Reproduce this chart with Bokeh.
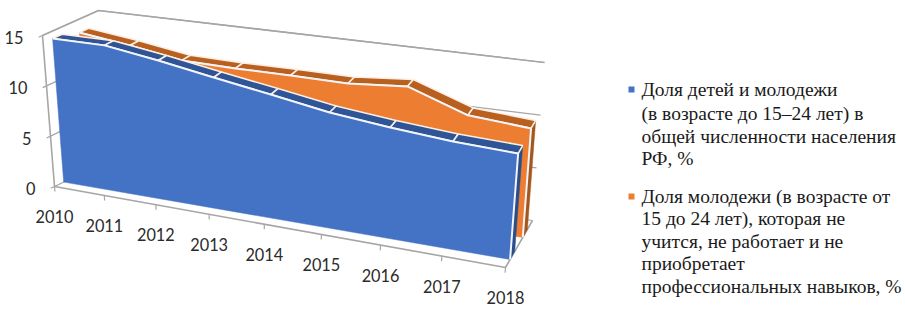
from bokeh.plotting import figure
from bokeh.models import Range1d
from bokeh.core.properties import value
from bokeh.embed import file_html
from bokeh.resources import INLINE

# ---- data ----
years = ["2010", "2011", "2012", "2013", "2014", "2015", "2016", "2017", "2018"]
share_children_youth = [14.28, 14.37, 13.67, 12.83, 12.02, 11.16, 10.63, 10.23, 10.06]
share_neet = [13.7, 13.08, 12.29, 12.22, 12.26, 12.24, 12.73, 10.76, 10.35]
value_ticks = [0, 5, 10, 15]
legend_blue = ["Доля детей и молодежи", "(в возрасте до 15–24 лет) в",
               "общей численности населения", "РФ, %"]
legend_orange = ["Доля молодежи (в возрасте от", "15 до 24 лет), которая не",
                 "учится, не работает и не", "приобретает",
                 "профессиональных навыков, %"]

# ---- oblique 3D projection of (category index, depth, value) ----
W, H = 905, 309
VMAX = 15.0
R = 1.15
FLB, FRB, BLB, BRB = (54, 186), (505, 267), (108, 160), (532, 220)
FLT, FRT, BLT, BRT = (42, 35), (517, 109), (98, 10), (544, 62)
n = len(years)


def lerp(a, b, t):
    return (a[0] + (b[0] - a[0]) * t, a[1] + (b[1] - a[1]) * t)


def proj(i, d, v):
    s = i / (n - 1)
    u = s / (s + R * (1 - s))
    fb, bb = lerp(FLB, FRB, u), lerp(BLB, BRB, u)
    ft, bt = lerp(FLT, FRT, u), lerp(BLT, BRT, u)
    return lerp(lerp(fb, bb, d), lerp(ft, bt, d), v / VMAX)


def poly(pts):
    return [q[0] for q in pts], [q[1] for q in pts]


p = figure(width=W, height=H, output_backend="svg", toolbar_location=None,
           x_range=Range1d(0, W), y_range=Range1d(H, 0), min_border=0)
p.axis.visible = False
p.grid.visible = False
p.outline_line_color = None
p.background_fill_color = "white"

GREY = "#a6a6a6"


def wall(points, width=1.6):
    xs, ys = poly(points)
    p.line(xs, ys, line_color=GREY, line_width=width)


# walls, floor and gridlines
wall([proj(0, 0, 0), proj(0, 0, VMAX), proj(0, 1, VMAX), proj(n - 1, 1, VMAX)])
wall([proj(0, 0, 0), proj(n - 1, 0, 0), proj(n - 1, 1, 0)])
for v in value_ticks:
    wall([proj(0, -0.07, v), proj(0, 0, v), proj(0, 1, v), proj(n - 1, 1, v)], 1.2)
for i in range(n):
    wall([proj(i, 0, 0), proj(i, 0, -0.5)], 1.2)


def solid(vals, d0, d1, front, top, side):
    # right side
    xs, ys = poly([proj(n - 1, d0, vals[-1]), proj(n - 1, d1, vals[-1]),
                   proj(n - 1, d1, 0), proj(n - 1, d0, 0)])
    p.patch(xs, ys, fill_color=side, line_color=side, line_width=0.5)
    # top bands
    for i in range(n - 1):
        xs, ys = poly([proj(i, d0, vals[i]), proj(i + 1, d0, vals[i + 1]),
                       proj(i + 1, d1, vals[i + 1]), proj(i, d1, vals[i])])
        p.patch(xs, ys, fill_color=top, line_color="#fbeee4", line_width=1.6)
    # front face
    pts = [proj(i, d0, vals[i]) for i in range(n)]
    xs, ys = poly(pts + [proj(n - 1, d0, 0), proj(0, d0, 0)])
    p.patch(xs, ys, fill_color=front, line_color=front, line_width=0.5)
    # light edge along the top and down the right side
    xs, ys = poly(pts + [proj(n - 1, d0, 0)])
    p.line(xs, ys, line_color="#f2f5fb", line_width=2)


solid(share_neet, 0.64, 0.81, "#ed7d31", "#b9601f", "#a5561c")
solid(share_children_youth, 0.17, 0.34, "#4472c4", "#2f5597", "#2a4d8c")

# tick labels
lab = dict(text_font=value("Lato"), text_font_size="16.3px", text_color="#2b2b2b",
           text_baseline="middle")
for i, y in enumerate(years):
    x0, y0 = proj(i, 0, 0)
    p.text([x0], [y0], text=[y], text_align="center", y_offset=30, **lab)
for v in value_ticks:
    x0, y0 = proj(0, 0, v)
    p.text([x0], [y0], text=[str(v)], text_align="right", x_offset=-19, y_offset=2, **lab)

# legend
LEG_X = 641
txt = dict(text_font=value("Liberation Serif"), text_font_size="19.5px", text_color="#1a1a1a",
           text_baseline="middle", text_align="left")
blue_y = [89, 113, 136, 158]
orange_y = [196, 218, 241, 263, 286]
for line, y in zip(legend_blue, blue_y):
    p.text([LEG_X], [y], text=[line], **txt)
for line, y in zip(legend_orange, orange_y):
    p.text([LEG_X], [y], text=[line], **txt)
p.rect([631], [blue_y[0]], width=6, height=6, fill_color="#4472c4", line_color=None)
p.rect([631], [orange_y[0]], width=6, height=6, fill_color="#ed7d31", line_color=None)

open("out.html", "w").write(file_html(p, INLINE))
